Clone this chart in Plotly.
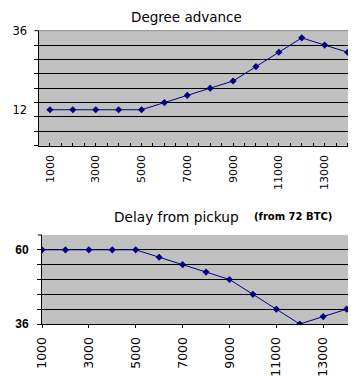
import plotly.graph_objects as go

rpm = [1000, 2000, 3000, 4000, 5000, 6000, 7000, 8000, 9000, 10000, 11000, 12000, 13000, 14000]
advance = [12, 12, 12, 12, 12, 14.4, 16.8, 19.2, 21.6, 26.4, 31.2, 36, 33.6, 31.2]
delay = [60, 60, 60, 60, 60, 57.6, 55.2, 52.8, 50.4, 45.6, 40.8, 36, 38.4, 40.8]
x_labels = ["1000", "3000", "5000", "7000", "9000", "11000", "13000"]
top_title = "Degree advance"
bottom_title = "Delay from pickup"
bottom_note = "(from 72 BTC)"

idx = list(range(len(rpm)))
lab_idx = idx[::2]

# page body has an 8px margin; lay the figure out in window pixels
OX, OY = 8, 8
FW, FH = 348, 368
def fx(p):
    return (p - OX) / FW
def fy(p):
    return 1 - (p - OY) / FH

NAVY = "#000080"
FONT = "DejaVu Sans"

fig = go.Figure()
fig.add_trace(go.Scatter(x=idx, y=advance, mode="lines+markers", xaxis="x", yaxis="y",
                         line=dict(color=NAVY, width=1),
                         marker=dict(symbol="diamond", size=5.5, color=NAVY),
                         hovertext=[str(r) for r in rpm], showlegend=False))
fig.add_trace(go.Scatter(x=idx, y=delay, mode="lines+markers", xaxis="x2", yaxis="y2",
                         line=dict(color=NAVY, width=1),
                         marker=dict(symbol="diamond", size=5.5, color=NAVY),
                         hovertext=[str(r) for r in rpm], showlegend=False))

fig.update_layout(
    template="none",
    width=FW, height=FH,
    margin=dict(l=0, r=0, t=0, b=0, pad=0, autoexpand=False),
    paper_bgcolor="white",
    plot_bgcolor="#C0C0C0",
    xaxis=dict(domain=[fx(38.5), 1], anchor="y", range=[-0.5, 13.37], automargin=False,
               tickmode="array", tickvals=lab_idx, ticktext=x_labels,
               tickangle=-90, tickfont=dict(family=FONT, size=11, color="black"),
               ticks="inside", ticklen=3, tickcolor="black",
               minor=dict(dtick=0.5, tick0=-0.5, ticks="inside", ticklen=3, tickcolor="black", showgrid=False),
               showgrid=False, zeroline=False, showline=True, linecolor="black", linewidth=1,
               ticklabelstandoff=4),
    yaxis=dict(domain=[fy(145.7), fy(30.7)], anchor="x", range=[0, 38.39], automargin=False,
               tickmode="array", tickvals=[12, 38.39], ticktext=["12", "36"],
               tickfont=dict(family=FONT, size=11.5, color="black"),
               ticks="", showgrid=False, zeroline=False,
               minor=dict(tick0=0, dtick=4.8, ticks="outside", ticklen=4, tickcolor="black",
                          showgrid=True, gridcolor="black", gridwidth=1),
               showline=True, linecolor="black", linewidth=1,
               ticklabelstandoff=8),
    xaxis2=dict(domain=[fx(42), 1], anchor="y2", range=[0, 13.4], automargin=False,
                tickmode="array", tickvals=lab_idx, ticktext=x_labels,
                tickangle=-90, tickfont=dict(family=FONT, size=12.5, color="black"),
                ticks="outside", ticklen=3, tickcolor="black",
                showgrid=False, zeroline=False, showline=True, linecolor="black", linewidth=1,
                ticklabelstandoff=4),
    yaxis2=dict(domain=[fy(324), fy(235)], anchor="x2", range=[36, 64.79], automargin=False,
                tickmode="array", tickvals=[36, 60], ticktext=["36", "60"],
                tickfont=dict(family="Liberation Sans", size=12, color="black", weight="bold"),
                ticks="outside", ticklen=4, tickcolor="black",
                showgrid=True, gridcolor="black", gridwidth=1, zeroline=False,
                minor=dict(tick0=36, dtick=4.8, ticks="outside", ticklen=4, tickcolor="black",
                           showgrid=True, gridcolor="black", gridwidth=1),
                showline=True, linecolor="black", linewidth=1,
                ticklabelstandoff=6),
    shapes=[
        dict(type="line", xref="paper", yref="y domain", x0=fx(38.5), x1=1, y0=1, y1=1,
             line=dict(color="#8a8a8a", width=1)),
        dict(type="line", xref="paper", yref="y domain", x0=fx(34.5), x1=fx(38.5), y0=1, y1=1,
             line=dict(color="black", width=1)),
        dict(type="line", xref="paper", yref="y2 domain", x0=fx(38), x1=fx(42), y0=1, y1=1,
             line=dict(color="black", width=1)),
    ],
    annotations=[
        dict(text=top_title, x=fx(186.7), y=1, xref="paper", yref="paper",
             xanchor="center", yanchor="top", showarrow=False, borderpad=0,
             font=dict(family=FONT, size=13.5, color="black")),
        dict(text=bottom_title, x=fx(111.7), y=fy(216.5), xref="paper", yref="paper",
             xanchor="left", yanchor="middle", showarrow=False,
             font=dict(family=FONT, size=13.7, color="black")),
        dict(text=bottom_note, x=fx(251.7), y=fy(216.5), xref="paper", yref="paper",
             xanchor="left", yanchor="middle", showarrow=False,
             font=dict(family=FONT, size=10, color="black", weight="bold")),
    ],
)

fig.write_html("out.html")
